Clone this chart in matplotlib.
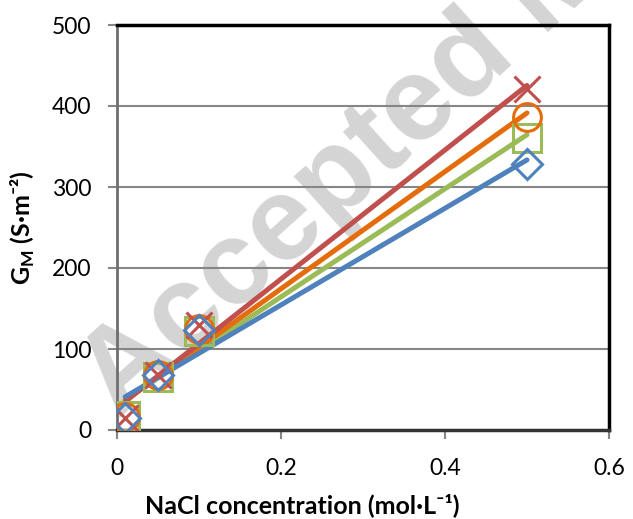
import numpy as np
import matplotlib
matplotlib.use("Agg")
import matplotlib.pyplot as plt

conc = [0.01, 0.05, 0.1, 0.5]
g_blue = [15, 68, 123, 328]
g_green = [17, 65, 122, 360]
g_orange = [16, 68, 125, 387]
g_red = [15, 68, 130, 421]
x_ticks = [0, 0.2, 0.4, 0.6]
x_tick_labels = ["0", "0.2", "0.4", "0.6"]
y_ticks = [0, 100, 200, 300, 400, 500]

plt.rcParams['font.family'] = ['Lato', 'DejaVu Sans']
plt.rcParams['mathtext.fontset'] = 'custom'
plt.rcParams['mathtext.rm'] = 'Lato'
plt.rcParams['mathtext.bf'] = 'Lato:bold'

fig = plt.figure(figsize=(6.33, 5.19), dpi=100)
ax = fig.add_axes([117/633, 1-430/519, (609-117)/633, (430-25)/519])
ax.set_facecolor('none')

fig.text(118.6/633, 1-419.7/519, "Accepted Manuscript", rotation=42, rotation_mode='anchor',
         ha='left', va='baseline', fontsize=86, fontweight='bold',
         family='Liberation Sans', color='#d4d4d4', zorder=-1)

styles = [
    (g_green, '#9BBB59', 's', 20, 2),
    (g_orange, '#E46C0A', 'o', 20, 3),
    (g_red, '#C0504D', 'x', 19, 4),
    (g_blue, '#4F81BD', 'D', 15, 5),
]
xs = np.array(conc)
for ys, col, mk, ms, z in styles:
    ys = np.array(ys, dtype=float)
    k, b = np.polyfit(xs, ys, 1)
    xl = np.array([xs[0], xs[-1]])
    ax.plot(xl, k*xl + b, color=col, lw=3.6, solid_capstyle='round', zorder=z)
for ys, col, mk, ms, z in styles:
    ax.plot(conc, ys, linestyle='none', marker=mk, ms=ms, mfc='none', mec=col,
            mew=2.2, zorder=z+5)

ax.set_xlim(0, 0.6)
ax.set_ylim(0, 500)
ax.set_xticks(x_ticks)
ax.set_xticklabels(x_tick_labels)
ax.set_yticks(y_ticks)
ax.yaxis.grid(True, color='#868686', lw=1.5)
ax.set_axisbelow(True)
ax.tick_params(axis='both', labelsize=16.5, color='#868686', width=1.5, length=6.5, direction='out')
ax.tick_params(axis='x', pad=14)
ax.tick_params(axis='y', pad=12)
for s in ['top', 'right']:
    ax.spines[s].set_color('black')
    ax.spines[s].set_linewidth(2.5)
ax.spines['left'].set_color('#6e6e6e')
ax.spines['left'].set_linewidth(2)
ax.spines['bottom'].set_color('#333333')
ax.spines['bottom'].set_linewidth(2.5)

xl_ = ax.set_xlabel("NaCl concentration (mol·L⁻¹)", fontsize=18, fontweight='bold')
xl_.set_va('center')
ax.xaxis.set_label_coords((302-117)/492, (430-505)/405)
yl_ = ax.set_ylabel("G$_{\\mathbf{M}}$ (S·m⁻²)", fontsize=18, fontweight='bold')
yl_.set_va('center')
ax.yaxis.set_label_coords((23-117)/492, 0.5)

fig.savefig("out.png", dpi=100)
